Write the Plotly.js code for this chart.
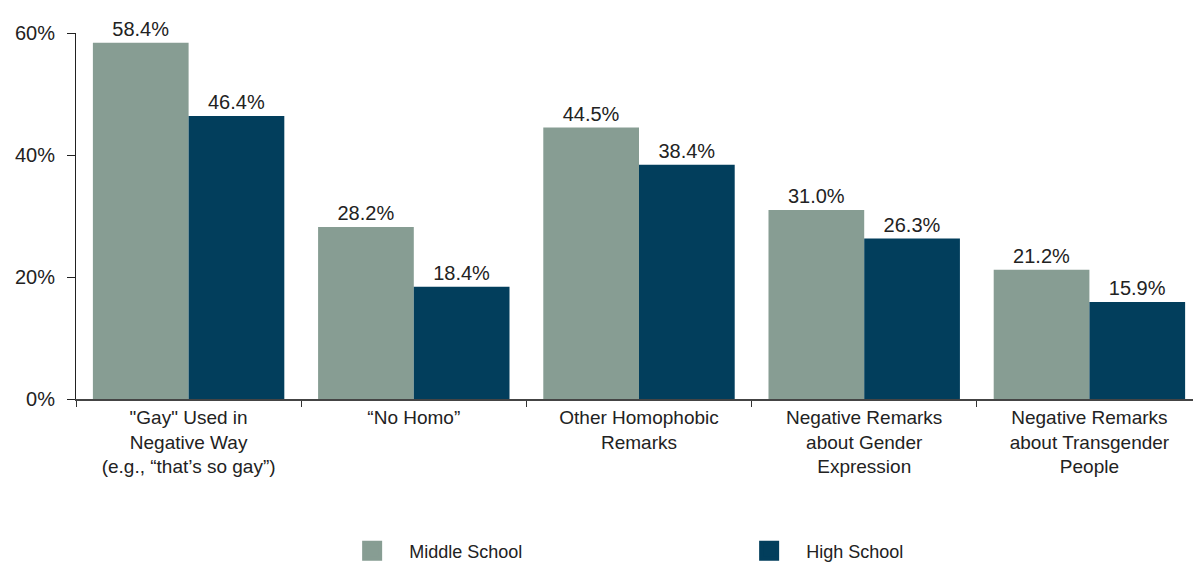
<!DOCTYPE html>
<html><head><meta charset="utf-8">
<script src="https://cdn.plot.ly/plotly-3.0.1.min.js"></script>
<style>html,body{margin:0;padding:0;background:#fff;}</style>
</head><body><div id="chart" style="width:1193px;height:566px;"></div>
<script>
const categories = [
  '"Gay" Used in<br>Negative Way<br>(e.g., “that’s so gay”)',
  '“No Homo”',
  'Other Homophobic<br>Remarks',
  'Negative Remarks<br>about Gender<br>Expression',
  'Negative Remarks<br>about Transgender<br>People'
];
const seriesNames = ['Middle School', 'High School'];
const middleSchool = [58.4, 28.2, 44.5, 31.0, 21.2];
const highSchool = [46.4, 18.4, 38.4, 26.3, 15.9];
const yTickVals = [0, 20, 40, 60];
const yTickText = ['0%', '20%', '40%', '60%'];
const colors = ['#879D93', '#023E5C'];

const FONT = '"Liberation Sans", Arial, sans-serif';
const mk = (name, y, color) => ({
  type: 'bar', name, x: categories, y,
  marker: {color}, showlegend: false,
  texttemplate: '%{y:.1f}%', textposition: 'outside',
  textfont: {family: FONT, size: 20, color: '#222'},
  cliponaxis: false, hoverinfo: 'skip'
});
const legendEntry = (name, color) => ({
  type: 'scatter', mode: 'markers', name, x: [null], y: [null],
  marker: {symbol: 'square', size: 16, color, line: {color, width: 4}},
  showlegend: true, hoverinfo: 'skip'
});
const data = [
  mk(seriesNames[0], middleSchool, colors[0]),
  mk(seriesNames[1], highSchool, colors[1]),
  legendEntry(seriesNames[0], colors[0]),
  legendEntry(seriesNames[1], colors[1])
];
const layout = {
  width: 1193, height: 566,
  margin: {l: 76, r: 0, t: 33, b: 167, autoexpand: false},
  paper_bgcolor: '#fff', plot_bgcolor: '#fff',
  font: {family: FONT, size: 18, color: '#222'},
  barmode: 'group', bargap: 0.15, bargroupgap: 0,
  xaxis: {
    type: 'category', range: [-0.5, 4.46], tickson: 'boundaries', automargin: false,
    ticks: 'outside', ticklen: 6, tickcolor: '#333',
    showline: true, linecolor: '#444', linewidth: 2,
    showgrid: false, tickfont: {family: FONT, size: 19, color: '#222'}
  },
  yaxis: {
    range: [0, 60], tickvals: yTickVals, ticktext: yTickText, automargin: false,
    ticks: 'outside', ticklen: 8, tickcolor: '#222', ticklabelstandoff: 8,
    showline: true, linecolor: '#222', linewidth: 1,
    showgrid: false, zeroline: false, tickfont: {family: FONT, size: 20, color: '#222'}
  },
  showlegend: true,
  legend: {orientation: 'h', x: 0.232, xanchor: 'left', y: -0.365, yanchor: 'top',
    entrywidth: 318, itemsizing: 'trace', itemwidth: 64,
    font: {family: FONT, size: 18, color: '#222'}}
};
Plotly.newPlot('chart', data, layout, {displayModeBar: false, staticPlot: true});
</script></body></html>
